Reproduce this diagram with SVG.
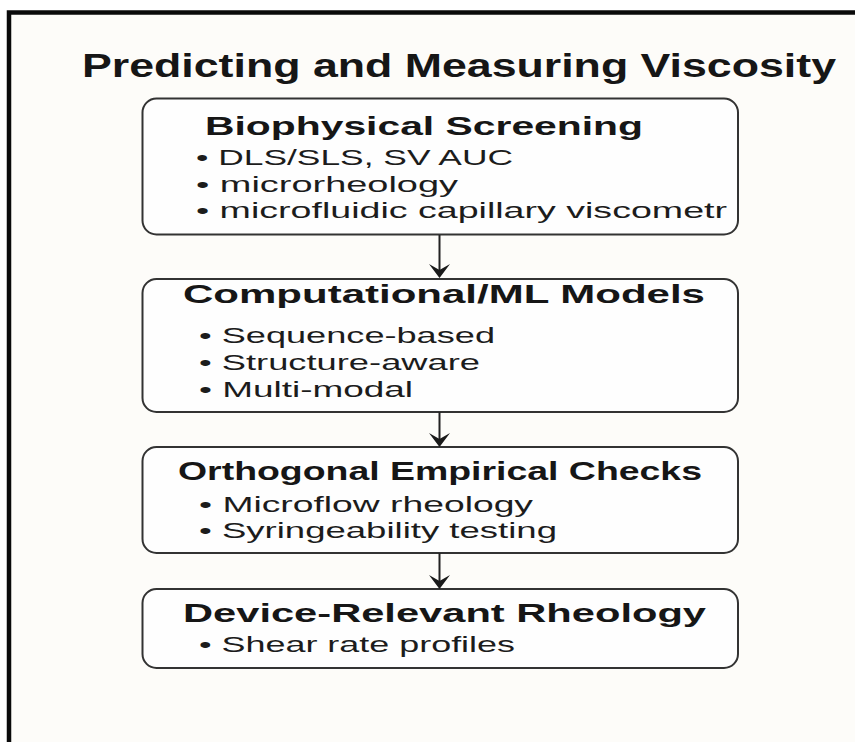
<svg xmlns="http://www.w3.org/2000/svg" width="855" height="742" viewBox="0 0 855 742">
  <defs>
    <style>
      .frame { fill: #fdfcf9; stroke: #0a0a0a; stroke-width: 4.5; }
      .box { fill: #fefefe; stroke: #333333; stroke-width: 2; }
      .title { font-family: "Liberation Sans", Arial, sans-serif; font-weight: bold; font-size: 34px; fill: #161616; }
      .head { font-family: "Liberation Sans", Arial, sans-serif; font-weight: bold; font-size: 26.5px; fill: #161616; }
      .item { font-family: "Liberation Sans", Arial, sans-serif; font-size: 22px; fill: #1c1c1c; }
      .link { stroke: #222222; stroke-width: 2; fill: none; }
      .tip { fill: #1a1a1a; }
    </style>
  </defs>

  <rect x="0" y="0" width="855" height="742" fill="#ffffff"/>
  <rect class="frame" x="9" y="12.5" width="900" height="800"/>

  <text class="title" x="82" y="77" textLength="754" lengthAdjust="spacingAndGlyphs">Predicting and Measuring Viscosity</text>

  <g id="biophysical-screening">
    <rect class="box" x="142.5" y="98.5" width="595.5" height="136" rx="14"/>
    <text class="head" x="205" y="135" textLength="438" lengthAdjust="spacingAndGlyphs">Biophysical Screening</text>
    <text class="item" x="196" y="165" textLength="317" lengthAdjust="spacingAndGlyphs">• DLS/SLS, SV AUC</text>
    <text class="item" x="196" y="192" textLength="262" lengthAdjust="spacingAndGlyphs">• microrheology</text>
    <text class="item" x="196" y="218" textLength="531" lengthAdjust="spacingAndGlyphs">• microfluidic capillary viscometr</text>
  </g>

  <g id="computational-models">
    <rect class="box" x="142.5" y="279" width="595.5" height="133" rx="14"/>
    <text class="head" x="183" y="303" textLength="522" lengthAdjust="spacingAndGlyphs">Computational/ML Models</text>
    <text class="item" x="199" y="343" textLength="296" lengthAdjust="spacingAndGlyphs">• Sequence-based</text>
    <text class="item" x="199" y="370" textLength="281" lengthAdjust="spacingAndGlyphs">• Structure-aware</text>
    <text class="item" x="199" y="397" textLength="214" lengthAdjust="spacingAndGlyphs">• Multi-modal</text>
  </g>

  <g id="orthogonal-checks">
    <rect class="box" x="142.5" y="447" width="595.5" height="106" rx="14"/>
    <text class="head" x="178" y="480" textLength="524" lengthAdjust="spacingAndGlyphs">Orthogonal Empirical Checks</text>
    <text class="item" x="199" y="512" textLength="334" lengthAdjust="spacingAndGlyphs">• Microflow rheology</text>
    <text class="item" x="199" y="538" textLength="358" lengthAdjust="spacingAndGlyphs">• Syringeability testing</text>
  </g>

  <g id="device-rheology">
    <rect class="box" x="142.5" y="589" width="595.5" height="79" rx="14"/>
    <text class="head" x="183" y="622" textLength="523" lengthAdjust="spacingAndGlyphs">Device-Relevant Rheology</text>
    <text class="item" x="199" y="652" textLength="316" lengthAdjust="spacingAndGlyphs">• Shear rate profiles</text>
  </g>

  <g id="connectors">
    <line class="link" x1="439.5" y1="235" x2="439.5" y2="272"/>
    <path class="tip" d="M429,264 L439.5,270 L450,264 L439.5,278 Z"/>
    <line class="link" x1="439.5" y1="412" x2="439.5" y2="440"/>
    <path class="tip" d="M429,433 L439.5,439 L450,433 L439.5,447 Z"/>
    <line class="link" x1="439.5" y1="553" x2="439.5" y2="582"/>
    <path class="tip" d="M429,575 L439.5,581 L450,575 L439.5,589 Z"/>
  </g>
</svg>
